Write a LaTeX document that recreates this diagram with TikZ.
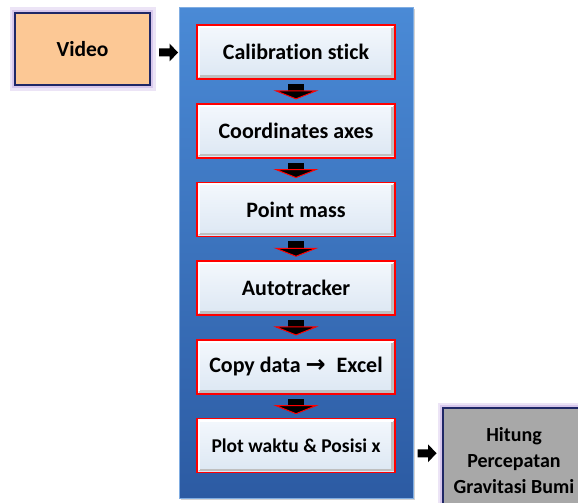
\documentclass[tikz,border=0pt]{standalone}
\usepackage{fontspec}
\setmainfont{Carlito}[Ligatures=NoCommon]
\newfontfamily\symfont{DejaVu Sans}
\usepackage{xcolor}
\usepackage{tikz}
\usetikzlibrary{positioning, calc, shadows, backgrounds}

\definecolor{panelTop}{HTML}{4A8AD6}
\definecolor{panelBot}{HTML}{2C5BA3}
\definecolor{stepTop}{HTML}{F4F8FD}
\definecolor{stepBot}{HTML}{DCE7F3}
\definecolor{peach}{HTML}{FCC895}
\definecolor{navy}{HTML}{1F2766}
\definecolor{glowc}{HTML}{C9B3E6}
\definecolor{greybox}{HTML}{A8A8A8}

\begin{document}
\begin{tikzpicture}[x=1pt, y=1pt,
  stepbox/.style={draw=red, line width=1.6pt, top color=stepTop, bottom color=stepBot,
    minimum width=198pt, minimum height=54pt, align=center,
    font=\bfseries\fontsize{22}{26}\selectfont,
    path picture={
      \draw[gray!50, line width=2.5pt]
        ([shift={(-2.5,-2)}]path picture bounding box.north east)
        -- ([shift={(-2.5,2.5)}]path picture bounding box.south east)
        -- ([shift={(2,2.5)}]path picture bounding box.south west);
      \draw[white, line width=2pt]
        ([shift={(2,2.5)}]path picture bounding box.south west)
        -- ([shift={(2,-2)}]path picture bounding box.north west)
        -- ([shift={(-2.5,-2)}]path picture bounding box.north east);}},
  inbox/.style={draw=navy, line width=1.6pt, align=center,
    preaction={draw=glowc, line width=11pt, opacity=0.35},
    preaction={draw=glowc, line width=6pt, opacity=0.6}},
  panel/.style={top color=panelTop, bottom color=panelBot, draw=panelTop!70!white,
    drop shadow={opacity=0.35, shadow xshift=2pt, shadow yshift=-2pt}},
  dnarrow/.pic={
    \fill[black] (-8,7.5) rectangle (8,0);
    \filldraw[fill=black, draw=red, line width=1pt] (-20,0.5) -- (20,0.5) -- (0,-7.5) -- cycle;
  },
  rtarrow/.pic={
    \fill[black] (-9.5,4) -- (1,4) -- (1,9) -- (9.5,0) -- (1,-9) -- (1,-4) -- (-9.5,-4) -- cycle;
  },
  node distance=23.1pt
]
  \useasboundingbox (0,0) rectangle (578,-503);
  \clip (0,0) rectangle (578,-503);

  % steps inside the blue panel
  \node[stepbox] (cal) at (296,-52) {Calibration stick};
  \node[stepbox, below=of cal] (axes) {Coordinates axes};
  \node[stepbox, below=of axes] (mass) {Point mass};
  \node[stepbox, below=of mass] (track) {Autotracker};
  \node[stepbox, below=of track] (copy) {Copy data {\symfont\bfseries\fontsize{24}{26}\selectfont →}\enspace Excel};
  \node[stepbox, below=of copy, font=\bfseries\fontsize{19.5}{24}\selectfont] (plot) {Plot waktu \& Posisi x};

  \begin{scope}[on background layer]
    \draw[panel] ($(cal.north west)+(-17,17)$) rectangle ($(plot.south east)+(17,-25)$);
  \end{scope}

  % input and output
  \node[inbox, fill=peach, minimum width=135pt, minimum height=72pt,
    font=\bfseries\fontsize{21.5}{26}\selectfont] (video) at (82.5,-49) {Video};
  \node[inbox, fill=greybox, minimum width=142pt, minimum height=106pt,
    font=\bfseries\fontsize{20}{26}\selectfont] (gravity) at (514,-461) {Hitung\\Percepatan\\Gravitasi Bumi};

  % arrows
  \pic at ($(video.east)!0.5!(cal.west)+(-5,-2)$) {rtarrow};
  \pic at ($(plot.east)!0.5!(gravity.west)+(8,0)$) {rtarrow};
  \foreach \a/\b in {cal/axes, axes/mass, mass/track, track/copy, copy/plot}
    \pic at ($(\a.south)!0.5!(\b.north)$) {dnarrow};
\end{tikzpicture}
\end{document}
